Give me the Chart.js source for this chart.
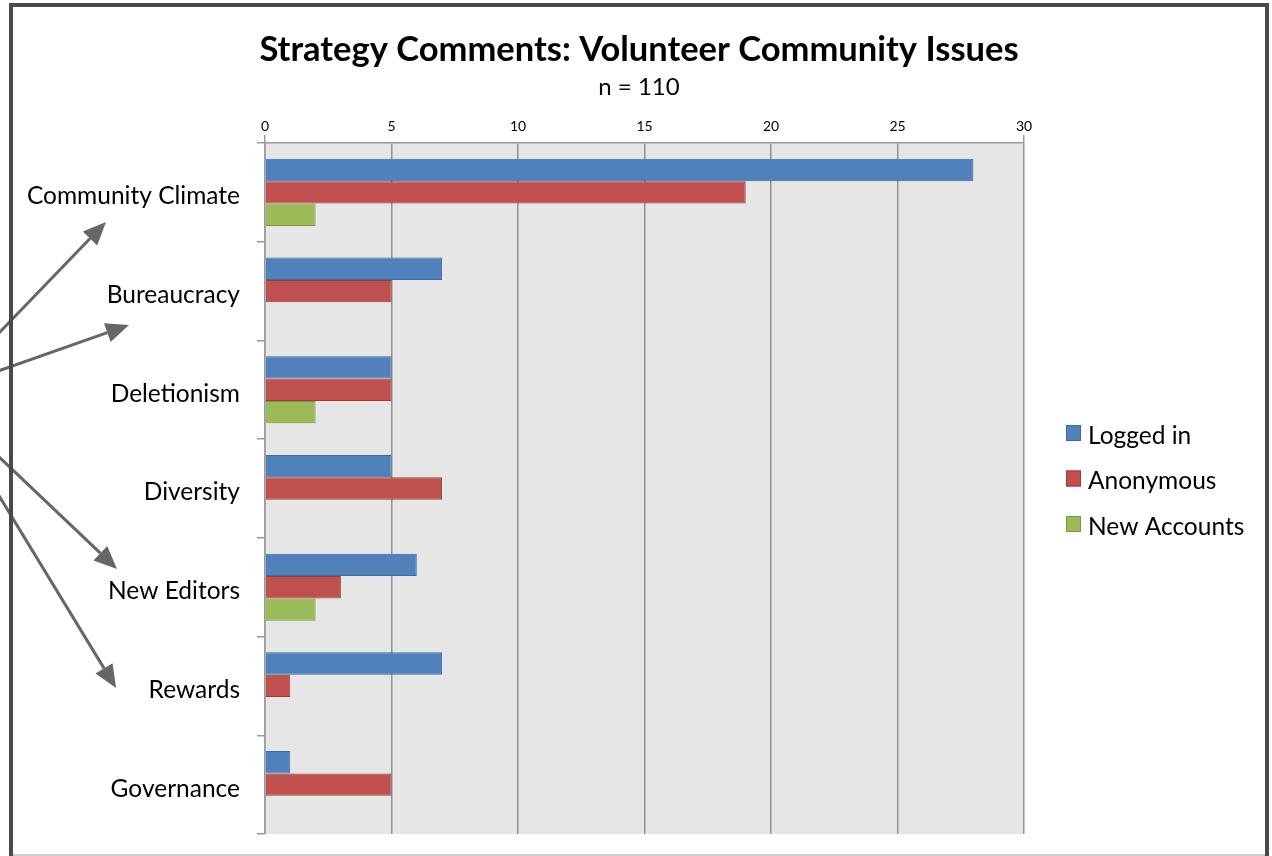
<!DOCTYPE html>
<html>
<head>
<meta charset="utf-8">
<script src="https://cdn.jsdelivr.net/npm/chart.js@4.4.1/dist/chart.umd.min.js"></script>
<style>
    html, body { margin: 0; padding: 0; background: #ffffff; }
    #wrap { position: relative; width: 1272px; height: 856px; overflow: hidden; }
    #frame {
        position: absolute; left: 9px; top: 3px; width: 1260px; height: 860px;
        border: 4px solid #4a4a4a; box-sizing: border-box; pointer-events: none;
    }
    #bottomLine { position: absolute; left: 13px; top: 854px; width: 1252px; height: 2px; background: #cfcfcf; }
    canvas { position: absolute; left: 0; top: 0; }
</style>
</head>
<body>
<div id="wrap">
    <canvas id="issuesChart" width="1272" height="856"></canvas>
    <div id="bottomLine"></div>
    <div id="frame"></div>
</div>
<script>
    var categories = ['Community Climate', 'Bureaucracy', 'Deletionism', 'Diversity', 'New Editors', 'Rewards', 'Governance'];
    var loggedIn = [28, 7, 5, 5, 6, 7, 1];
    var anonymous = [19, 5, 5, 7, 3, 1, 5];
    var newAccounts = [2, 0, 2, 0, 2, 0, 0];
    var seriesNames = ['Logged in', 'Anonymous', 'New Accounts'];
    var xTicks = [0, 5, 10, 15, 20, 25, 30];

    var FONT = 'Lato, "Open Sans", sans-serif';

    // grey plot background + white page
    const plotBackground = {
        id: 'plotBackground',
        beforeDraw: function (chart) {
            const ctx = chart.ctx;
            const a = chart.chartArea;
            ctx.save();
            ctx.fillStyle = '#ffffff';
            ctx.fillRect(0, 0, chart.width, chart.height);
            ctx.fillStyle = '#e6e6e6';
            ctx.fillRect(a.left, a.top, a.right - a.left, a.bottom - a.top);
            ctx.restore();
        }
    };

    // legend on the right, registered as a layout box so it reserves its own column
    const sideLegend = {
        id: 'sideLegend',
        beforeInit: function (chart) {
            const box = {
                position: 'right',
                weight: 1000,
                fullSize: false,
                options: {},
                left: 0, top: 0, right: 0, bottom: 0, width: 0, height: 0,
                isHorizontal: function () { return false; },
                update: function (maxWidth, maxHeight) {
                    this.width = 242;
                    this.height = maxHeight;
                },
                draw: function () {
                    const ctx = chart.ctx;
                    const a = chart.chartArea;
                    const sets = chart.data.datasets;
                    const rowGap = 45.5;
                    const midY = (a.top + a.bottom) / 2 - 9;
                    ctx.save();
                    ctx.font = '24.5px ' + FONT;
                    ctx.textBaseline = 'middle';
                    ctx.textAlign = 'left';
                    sets.forEach(function (ds, i) {
                        const y = midY + (i - 1) * rowGap;
                        const x = box.left + 42;
                        ctx.fillStyle = ds.backgroundColor;
                        ctx.fillRect(x, y - 9, 15, 16);
                        ctx.strokeStyle = ds.borderColor;
                        ctx.lineWidth = 1;
                        ctx.strokeRect(x + 0.5, y - 8.5, 14, 15);
                        ctx.fillStyle = '#000000';
                        ctx.fillText(ds.label, x + 22, y + 2);
                    });
                    ctx.restore();
                }
            };
            Chart.layouts.addBox(chart, box);
        }
    };

    // call-out arrows pointing at the category names
    const callouts = [
        [[-2, 334], [106, 222]],
        [[-2, 371], [129, 325]],
        [[-2, 456], [117, 569]],
        [[-2, 494], [116, 688]]
    ];
    const arrows = {
        id: 'arrows',
        afterDraw: function (chart) {
            const ctx = chart.ctx;
            ctx.save();
            ctx.strokeStyle = '#666666';
            ctx.fillStyle = '#666666';
            ctx.lineWidth = 3;
            callouts.forEach(function (c) {
                const x0 = c[0][0], y0 = c[0][1], x1 = c[1][0], y1 = c[1][1];
                const ang = Math.atan2(y1 - y0, x1 - x0);
                const headLen = 23, headW = 10;
                const bx = x1 - headLen * Math.cos(ang), by = y1 - headLen * Math.sin(ang);
                ctx.beginPath();
                ctx.moveTo(x0, y0);
                ctx.lineTo(bx, by);
                ctx.stroke();
                ctx.beginPath();
                ctx.moveTo(x1, y1);
                ctx.lineTo(bx + headW * Math.sin(ang), by - headW * Math.cos(ang));
                ctx.lineTo(bx - headW * Math.sin(ang), by + headW * Math.cos(ang));
                ctx.closePath();
                ctx.fill();
            });
            ctx.restore();
        }
    };

    function issuesChart() {
        const ctx = document.getElementById('issuesChart').getContext('2d');
        const myChart = new Chart(ctx, {
            type: 'bar',
            data: {
                labels: categories,
                datasets: [
                    { label: seriesNames[0], data: loggedIn, backgroundColor: '#4f81bd', borderColor: '#3f6a9c', borderWidth: 1 },
                    { label: seriesNames[1], data: anonymous, backgroundColor: '#c0504d', borderColor: '#9c3d3a', borderWidth: 1 },
                    { label: seriesNames[2], data: newAccounts, backgroundColor: '#9bbb59', borderColor: '#789a3c', borderWidth: 1 },
                ]
            },
            plugins: [plotBackground, sideLegend, arrows],
            options: {
                indexAxis: 'y',
                responsive: false,
                animation: false,
                categoryPercentage: 0.68,
                barPercentage: 1.0,
                layout: {
                    padding: { left: 12, right: 6, top: 0, bottom: 22 }
                },
                plugins: {
                    legend: { display: false },
                    tooltip: { enabled: false },
                    title: {
                        display: true,
                        text: 'Strategy Comments: Volunteer Community Issues',
                        color: '#000000',
                        font: { family: FONT, size: 34.5, weight: 'bold', lineHeight: 1.2 },
                        padding: { top: 29.5, bottom: 0 },
                    },
                    subtitle: {
                        display: true,
                        text: 'n = 110',
                        color: '#000000',
                        font: { family: FONT, size: 24, lineHeight: 1.2 },
                        padding: { top: 1.9, bottom: 0 },
                    }
                },
                scales: {
                    x: {
                        position: 'top',
                        min: 0,
                        max: 30,
                        afterFit: function (scale) { scale.height = 41.4; },
                        afterBuildTicks: function (scale) {
                            scale.ticks = xTicks.map(function (v) { return { value: v }; });
                        },
                        border: { display: true, color: '#9a9a9a', width: 1.5 },
                        grid: {
                            color: '#929292',
                            lineWidth: 1.5,
                            tickLength: 8,
                            tickColor: function (context) {
                                if (context.index === 0 || context.index === xTicks.length - 1) {
                                    return '#9a9a9a';
                                }
                                return 'rgba(0,0,0,0)';
                            },
                        },
                        ticks: {
                            color: '#000000',
                            padding: 0.5,
                            font: { family: FONT, size: 14 },
                            maxRotation: 0,
                        }
                    },
                    y: {
                        afterFit: function (scale) {
                            scale.width = 253;
                            scale.paddingTop = 0;
                            scale.paddingBottom = 0;
                        },
                        border: { display: true, color: '#9a9a9a', width: 1.5 },
                        grid: {
                            offset: true,
                            drawOnChartArea: false,
                            color: '#9a9a9a',
                            lineWidth: 1.5,
                            tickLength: 8,
                        },
                        ticks: {
                            color: '#000000',
                            padding: 17,
                            labelOffset: 4,
                            font: { family: FONT, size: 24.5 },
                        }
                    }
                }
            }
        });
    }

    issuesChart();
</script>
</body>
</html>
